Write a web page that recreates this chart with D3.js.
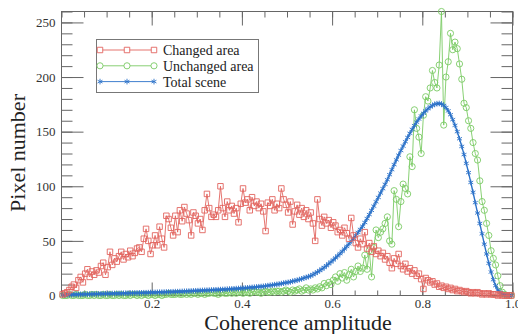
<!DOCTYPE html>
<html>
<head>
<meta charset="utf-8">
<script src="https://cdn.jsdelivr.net/npm/d3@7"></script>
<style>
  body { margin: 0; background: #fff; }
  svg { display: block; font-family: "Liberation Serif", "Times New Roman", serif; }
</style>
</head>
<body>
<div id="chart"></div>
<script>
// histogram bins of coherence amplitude, width 0.005
const binWidth = 0.005;

const changedArea = [
  1, 2, 3, 5, 8, 10, 7, 14, 17, 12,
  20, 24, 17, 22, 19, 23, 21, 27, 30, 19,
  26, 40, 28, 34, 31, 36, 40, 33, 38, 35,
  41, 36, 39, 43, 44, 40, 52, 61, 50, 38,
  46, 55, 46, 63, 52, 44, 73, 70, 62, 55,
  73, 58, 78, 68, 81, 75, 69, 55, 76, 73,
  66, 70, 60, 78, 93, 80, 72, 74, 72, 78,
  100, 80, 72, 86, 78, 82, 75, 80, 67, 84,
  98, 85, 88, 78, 90, 82, 86, 80, 84, 77,
  59, 85, 82, 88, 78, 84, 80, 98, 88, 83,
  76, 86, 65, 77, 83, 74, 80, 72, 78, 70,
  76, 66, 50, 88, 70, 64, 72, 66, 69, 62,
  67, 64, 58, 60, 55, 62, 57, 52, 71, 55,
  48, 44, 52, 47, 58, 43, 48, 40, 45, 38,
  41, 36, 39, 33, 36, 30, 25, 34, 29, 38,
  27, 24, 29, 22, 25, 20, 23, 18, 20, 15,
  6, 16, 14, 12, 13, 10, 11, 8, 9, 7,
  8, 6, 7, 5, 6, 4, 5, 4, 3, 4,
  3, 2, 3, 2, 3, 2, 1, 2, 1, 2,
  1, 1, 1, 0, 1, 0, 0, 0, 0, 0
];

const unchangedArea = [
  0, 0, 0, 1, 0, 0, 1, 0, 0, 0,
  1, 0, 0, 1, 0, 1, 0, 0, 1, 0,
  0, 1, 0, 0, 1, 0, 1, 0, 0, 1,
  0, 1, 1, 0, 1, 0, 1, 1, 0, 1,
  1, 0, 1, 1, 0, 1, 1, 2, 1, 1,
  1, 2, 1, 1, 2, 1, 2, 1, 2, 2,
  1, 2, 2, 1, 2, 2, 3, 2, 2, 1,
  2, 3, 2, 2, 3, 2, 3, 2, 3, 3,
  2, 3, 3, 2, 3, 4, 3, 3, 2, 3,
  4, 3, 3, 4, 3, 4, 4, 3, 4, 5,
  4, 3, 5, 4, 5, 6, 4, 5, 7, 5,
  6, 5, 7, 6, 8, 7, 11, 9, 12, 10,
  14, 17, 13, 20, 16, 21, 14, 19, 24, 17,
  22, 27, 22, 25, 37, 24, 41, 17, 44, 60,
  53, 58, 61, 66, 72, 50, 47, 96, 88, 63,
  86, 102, 98, 93, 127, 118, 170, 153, 145, 130,
  165, 182, 178, 190, 206, 195, 190, 211, 260, 156,
  200, 214, 240, 225, 232, 226, 212, 198, 176, 172,
  160, 153, 140, 130, 124, 105, 86, 78, 66, 55,
  41, 34, 28, 18, 9, 3, 1, 0, 0, 0
];

const totalScene = [
  0.5, 0.6, 0.7, 0.8, 0.8, 0.9, 1.0, 1.0, 1.1, 1.1,
  1.2, 1.2, 1.3, 1.3, 1.4, 1.4, 1.5, 1.5, 1.6, 1.6,
  1.7, 1.7, 1.8, 1.8, 1.9, 1.9, 2.0, 2.0, 2.1, 2.1,
  2.2, 2.2, 2.3, 2.3, 2.4, 2.4, 2.5, 2.5, 2.6, 2.7,
  2.8, 2.8, 2.9, 3.0, 3.0, 3.1, 3.2, 3.2, 3.3, 3.4,
  3.5, 3.5, 3.6, 3.7, 3.8, 3.9, 4.0, 4.1, 4.2, 4.3,
  4.4, 4.5, 4.6, 4.7, 4.8, 4.9, 5.0, 5.1, 5.2, 5.3,
  5.4, 5.5, 5.6, 5.8, 5.9, 6.0, 6.1, 6.3, 6.4, 6.6,
  6.7, 6.9, 7.0, 7.2, 7.4, 7.6, 7.8, 8.0, 8.2, 8.4,
  8.7, 9.0, 9.3, 9.6, 9.9, 10.2, 10.5, 10.9, 11.3, 11.7,
  12.0, 12.5, 13.0, 13.5, 14.0, 14.6, 15.2, 15.9, 16.6, 17.3,
  18.0, 19.1, 20.3, 21.5, 22.8, 24.2, 25.7, 27.3, 29.0, 30.7,
  32.5, 34.4, 36.3, 38.3, 40.4, 42.6, 44.9, 47.3, 49.8, 52.4,
  55.0, 57.7, 60.5, 63.4, 66.8, 70.4, 74.1, 77.9, 81.8, 85.8,
  89.8, 93.8, 97.8, 101.8, 106.0, 110.6, 115.2, 119.8, 124.2, 128.5,
  132.7, 136.8, 140.8, 144.7, 148.5, 152.1, 155.5, 158.7, 161.6, 164.3,
  166.8, 169.0, 171.0, 172.7, 174.0, 175.0, 175.6, 175.8, 175.3, 174.0,
  172.0, 169.0, 165.5, 161.0, 155.8, 150.0, 143.5, 136.5, 129.0, 121.0,
  112.5, 103.5, 94.5, 85.0, 75.5, 66.0, 56.5, 47.0, 38.0, 29.5,
  21.5, 14.5, 9.0, 5.0, 2.8, 1.5, 0.8, 0.4, 0.2, 0.1
];

const xTicks = [0.2, 0.4, 0.6, 0.8, 1.0];
const xMinorTicks = d3.range(0, 1.0001, 0.05);
const yTicks = [0, 50, 100, 150, 200, 250];
const yMinorTicks = d3.range(0, 261, 10);

const series = [
  { name: 'Unchanged area', values: unchangedArea, color: '#7acb64', lineWidth: 0.9, marker: 'circle' },
  { name: 'Total scene', values: totalScene, color: '#2b72c8', lineWidth: 1.4, marker: 'star' },
  { name: 'Changed area', values: changedArea, color: '#e2645f', lineWidth: 0.9, marker: 'square' }
];
const legendOrder = ['Changed area', 'Unchanged area', 'Total scene'];

const width = 518, height = 334;
const svg = d3.select('#chart').append('svg')
  .attr('width', width)
  .attr('height', height);

const x = d3.scaleLinear().domain([0, 1]).range([61.5, 512.5]);
const y = d3.scaleLinear().domain([0, 260]).range([295.5, 11.5]);

const tickColor = '#666';

function styleAxis(g) {
  g.select('.domain').remove();
  g.selectAll('.tick line').attr('stroke', tickColor);
  g.selectAll('.tick text').attr('fill', '#333').style('font-size', '13px')
    .style('font-family', '"Liberation Serif", serif');
}

// minor ticks
svg.append('g').attr('transform', `translate(0,${y(0)})`)
  .call(d3.axisBottom(x).tickValues(xMinorTicks).tickSize(-5).tickFormat(''))
  .call(styleAxis);
svg.append('g').attr('transform', `translate(0,${y(260)})`)
  .call(d3.axisTop(x).tickValues(xMinorTicks).tickSize(-6).tickFormat(''))
  .call(styleAxis);
svg.append('g').attr('transform', `translate(${x(0)},0)`)
  .call(d3.axisLeft(y).tickValues(yMinorTicks).tickSize(-11).tickFormat(''))
  .call(styleAxis);
svg.append('g').attr('transform', `translate(${x(1)},0)`)
  .call(d3.axisRight(y).tickValues(yMinorTicks).tickSize(-11).tickFormat(''))
  .call(styleAxis);

// major ticks
svg.append('g').attr('transform', `translate(0,${y(0)})`)
  .call(d3.axisBottom(x).tickValues(xTicks).tickSize(-13).tickPadding(3).tickFormat(d3.format('.1f')))
  .call(styleAxis);
svg.append('g').attr('transform', `translate(0,${y(260)})`)
  .call(d3.axisTop(x).tickValues(xTicks).tickSize(-14).tickFormat(''))
  .call(styleAxis);
svg.append('g').attr('transform', `translate(${x(0)},0)`)
  .call(d3.axisLeft(y).tickValues(yTicks).tickSize(-22).tickPadding(6))
  .call(styleAxis);
svg.append('g').attr('transform', `translate(${x(1)},0)`)
  .call(d3.axisRight(y).tickValues(yTicks).tickSize(-22).tickFormat(''))
  .call(styleAxis);

// frame
svg.append('rect')
  .attr('x', x(0)).attr('y', y(260))
  .attr('width', x(1) - x(0)).attr('height', y(0) - y(260))
  .attr('fill', 'none').attr('stroke', tickColor);

const plot = svg.append('g');

const markerPath = {
  circle: d3.symbol().type(d3.symbolCircle).size(30)(),
  star: d3.symbol().type(d3.symbolAsterisk).size(22)(),
  square: d3.symbol().type(d3.symbolSquare).size(30)()
};

const line = d3.line()
  .x((d, i) => x((i + 0.5) * binWidth))
  .y(d => y(d));

series.forEach(s => {
  const g = plot.append('g');
  g.append('path')
    .datum(s.values)
    .attr('d', line)
    .attr('fill', 'none')
    .attr('stroke', s.color)
    .attr('stroke-width', s.lineWidth);
  g.selectAll('path.m')
    .data(s.values)
    .enter()
    .append('path')
      .attr('class', 'm')
      .attr('d', markerPath[s.marker])
      .attr('transform', (d, i) => `translate(${x((i + 0.5) * binWidth)},${y(d)})`)
      .attr('fill', 'none')
      .attr('stroke', s.color)
      .attr('stroke-width', 0.9);
});

// legend
const legend = svg.append('g');
legend.append('rect')
  .attr('x', 96.5).attr('y', 39.5)
  .attr('width', 162).attr('height', 53)
  .attr('fill', '#fff').attr('stroke', '#777');

legendOrder.forEach((name, k) => {
  const s = series.find(d => d.name === name);
  const ly = 50 + k * 15.8;
  legend.append('line')
    .attr('x1', 100).attr('x2', 154)
    .attr('y1', ly).attr('y2', ly)
    .attr('stroke', s.color).attr('stroke-width', 0.9);
  [100, 127, 154].forEach(mx => {
    legend.append('path')
      .attr('d', markerPath[s.marker])
      .attr('transform', `translate(${mx},${ly})`)
      .attr('fill', '#fff')
      .attr('stroke', s.color)
      .attr('stroke-width', 0.9);
  });
  legend.append('text')
    .attr('x', 163).attr('y', ly + 5)
    .attr('fill', '#222')
    .style('font-size', '14px')
    .text(name);
});

// axis titles
svg.append('text')
  .attr('x', 298).attr('y', 330)
  .attr('text-anchor', 'middle')
  .attr('fill', '#222')
  .style('font-size', '22px')
  .text('Coherence amplitude');

svg.append('text')
  .attr('transform', 'translate(25,153) rotate(-90)')
  .attr('text-anchor', 'middle')
  .attr('fill', '#222')
  .style('font-size', '22px')
  .text('Pixel number');
</script>
</body>
</html>
